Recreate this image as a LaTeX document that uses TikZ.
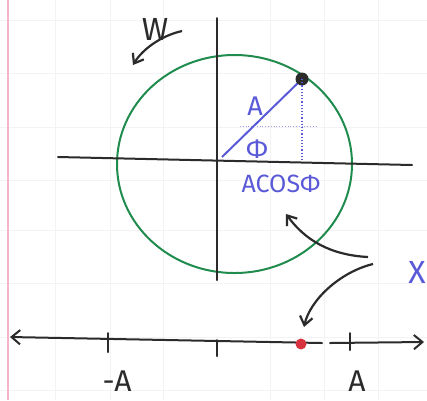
\documentclass[tikz,border=0pt]{standalone}
\usepackage{fontspec}
\setmainfont{Fira Sans}
\usetikzlibrary{arrows.meta,positioning,calc}
\definecolor{Pen}{HTML}{2B2B2B}
\definecolor{Ring}{HTML}{1F8C4E}
\definecolor{Ink}{HTML}{5A5AD8}
\definecolor{Dot}{HTML}{D9323F}
\definecolor{Margin}{HTML}{F4B4C8}
\definecolor{Paper}{HTML}{F3F3F3}
\tikzset{axis/.style={draw=Pen,line width=2pt,line cap=round},turn/.style={draw=Pen,line width=2.2pt,-{Straight Barb[length=3mm,width=4.5mm]}},lbl/.style={font=\fontsize{27}{29}\selectfont,text=Ink,inner sep=0pt},hand/.style={font=\fontsize{30}{32}\selectfont,text=Pen,inner sep=0pt}}

\begin{document}
\begin{tikzpicture}[x=1pt,y=-1pt]
\useasboundingbox (0,0) rectangle (427,400);
% paper
\foreach \y in {20,73,127,180,230,283,337,390}{\draw[Paper,line width=1pt] (0,\y)--(427,\y);}
\foreach \x in {55,110,163,270,324,378}{\draw[Paper,line width=1pt] (\x,0)--(\x,400);}
\draw[Margin,line width=1.8pt] (8,0)--(8,400);
% phasor
\draw[Ring,line width=2pt] (234.5,164) ellipse (117.5 and 109);
\draw[axis] (217,18)--(217,280);
\draw[axis] (58,157)--(412,165);
\coordinate (O) at (222,157);
\coordinate (P) at (302,79);
\draw[Ink,line width=2pt] (O)--(P);
\fill[Pen] (P) circle (6.5);
\draw[Ink,line width=1.2pt,dotted] (P)--(302,162);
\draw[Ink!60,line width=.8pt,dotted] (240,126)--(318,126);
\node[lbl] (amp) at (255,106) {A};
\node[lbl] (phi) at (257,149) {Φ};
\node[lbl,font=\fontsize{25}{27}\selectfont] (proj) at (281,184) {ACOSΦ};
\node[hand,font=\fontsize{32}{34}\selectfont] (omega) at (155,29) {W};
\coordinate (w0) at (182,31);
\coordinate (w1) at (133,65);
\draw[turn] (w0) .. controls (160,36) and (142,50) .. (w1);
% projection
\node[lbl,font=\fontsize{32}{34}\selectfont] (xlab) at (417,272) {X};
\coordinate (p0) at (368,257);
\coordinate (p1) at (286,214);
\draw[turn] (p0) .. controls (330,255) and (305,240) .. (p1);
\coordinate (q0) at (373,264);
\coordinate (q1) at (304,327);
\draw[turn] (q0) .. controls (340,272) and (310,300) .. (q1);
% line
\draw[axis,{Straight Barb[length=3mm,width=5mm]}-] (10,337)--(322,343);
\draw[axis,-{Straight Barb[length=3mm,width=5mm]}] (330,343)--(424,342);
\foreach \x/\a/\b in {108/333/352,217/340/356,350/333/350}{\draw[axis] (\x,\a)--(\x,\b);}
\fill[Dot] (301,344) circle (5.5);
\node[hand] (neg) at (117,381) {-A};
\node[hand] (pos) at (357,381) {A};
\end{tikzpicture}
\end{document}
